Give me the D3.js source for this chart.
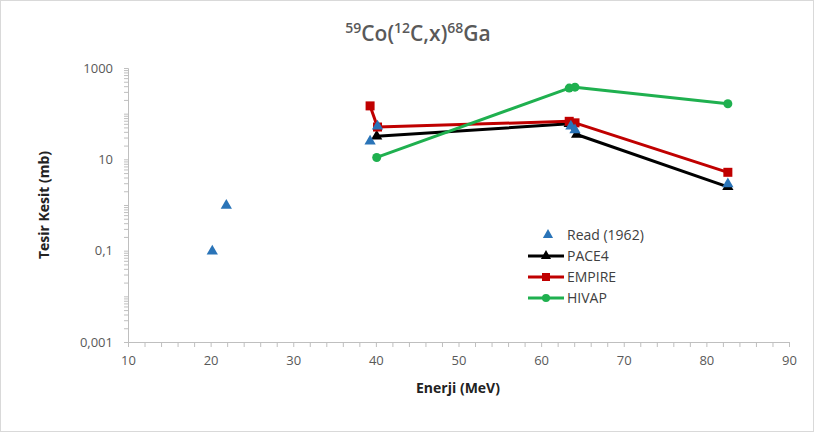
<!DOCTYPE html>
<html>
<head>
<meta charset="utf-8">
<script src="https://cdn.jsdelivr.net/npm/d3@7"></script>
<style>
  html, body { margin: 0; padding: 0; background: #fff; }
  svg { display: block; font-family: "Open Sans", "Liberation Sans", sans-serif; }
</style>
</head>
<body>
<svg id="chart" width="814" height="432"></svg>
<script>
// ---- data ----
const readX   = [20.2, 21.9, 39.3, 40.2, 63.6, 64.1, 82.6];
const readY   = [0.097, 0.97, 25, 53, 53, 44, 2.9];
const paceX   = [40.1, 63.4, 64.3, 82.6];
const paceY   = [32, 60, 35, 2.5];
const empireX = [39.3, 40.2, 63.4, 64.1, 82.6];
const empireY = [148, 51, 68, 63, 5.2];
const hivapX  = [40.1, 63.4, 64.1, 82.6];
const hivapY  = [11, 363, 380, 165];
const xTickValues = [10, 20, 30, 40, 50, 60, 70, 80, 90];
const yTickValues = [0.001, 0.1, 10, 1000];
const yTickLabels = ["0,001", "0,1", "10", "1000"];
const seriesNames = ["Read (1962)", "PACE4", "EMPIRE", "HIVAP"];
const seriesColors = ["#2a74b8", "#000000", "#c00000", "#1fb04f"];

(function () {
// ---- layout ----
const svg = d3.select("#chart");
const W = 814, H = 432;
const pL = 128, pR = 789, pT = 68, pB = 342;

svg.append("rect").attr("x", 0.5).attr("y", 0.5).attr("width", W - 1).attr("height", H - 1)
  .attr("fill", "#fff").attr("stroke", "#d9d9d9");

const x = d3.scaleLinear().domain([10, 90]).range([pL, pR]);
const y = d3.scaleLog().domain([0.001, 1000]).range([pB, pT]);

const axisColor = "#bfbfbf";
const labelColor = "#595959";

// X axis
const xMinor = d3.range(10, 90.01, 2);
const xAxis = svg.append("g").attr("transform", `translate(0,${pB})`)
  .call(d3.axisBottom(x).tickValues(xMinor).tickSize(5).tickFormat(""));
xAxis.select(".domain").attr("stroke", axisColor);
xAxis.selectAll(".tick line").attr("stroke", axisColor);
const xLab = svg.append("g").attr("transform", `translate(0,${pB})`)
  .call(d3.axisBottom(x).tickValues(xTickValues).tickSize(0).tickPadding(14).tickFormat(d3.format("d")));
xLab.select(".domain").remove();
xLab.selectAll("text").attr("fill", labelColor).style("font-size", "13px")
  .style("font-family", "'Open Sans', sans-serif");

// Y axis
const yMinor = [];
for (let e = -3; e < 3; e++) for (let m = 1; m < 10; m++) yMinor.push(m * Math.pow(10, e));
yMinor.push(1000);
const yAxis = svg.append("g").attr("transform", `translate(${pL},0)`)
  .call(d3.axisLeft(y).tickValues(yMinor).tickSize(4).tickFormat(""));
yAxis.select(".domain").attr("stroke", axisColor);
yAxis.selectAll(".tick line").attr("stroke", axisColor);
const yLab = svg.append("g").attr("transform", `translate(${pL},0)`)
  .call(d3.axisLeft(y).tickValues(yTickValues).tickSize(0).tickPadding(15)
    .tickFormat((d, i) => yTickLabels[i]));
yLab.select(".domain").remove();
yLab.selectAll("text").attr("fill", labelColor).style("font-size", "13px")
  .style("font-family", "'Open Sans', sans-serif");

// Title
const title = svg.append("text").attr("x", 418).attr("y", 41).attr("text-anchor", "middle")
  .attr("fill", labelColor).style("font-size", "21px").style("font-weight", "600");
title.append("tspan").attr("dy", -8).style("font-size", "14px").text("59");
title.append("tspan").attr("dy", 8).text("Co(");
title.append("tspan").attr("dy", -8).style("font-size", "14px").text("12");
title.append("tspan").attr("dy", 8).text("C,x)");
title.append("tspan").attr("dy", -8).style("font-size", "14px").text("68");
title.append("tspan").attr("dy", 8).text("Ga");

// Axis titles
svg.append("text").attr("x", 458).attr("y", 393).attr("text-anchor", "middle")
  .attr("fill", "#222").style("font-size", "14px").style("font-weight", "bold").text("Enerji (MeV)");
svg.append("text").attr("transform", `translate(49,205) rotate(-90)`).attr("text-anchor", "middle")
  .attr("fill", "#222").style("font-size", "14px").style("font-weight", "bold").text("Tesir Kesit (mb)");

// ---- series ----
const line = d3.line().x(d => x(d[0])).y(d => y(d[1]));
const zip = (a, b) => a.map((v, i) => [v, b[i]]);
const tri = d3.symbol().type(d3.symbolTriangle).size(55);
const triLeg = d3.symbol().type(d3.symbolTriangle).size(45);

function drawLine(data, color) {
  svg.append("path").datum(data).attr("d", line).attr("fill", "none")
    .attr("stroke", color).attr("stroke-width", 3).attr("stroke-linejoin", "round");
}
const paceData = zip(paceX, paceY), empData = zip(empireX, empireY), hivData = zip(hivapX, hivapY);
drawLine(paceData, seriesColors[1]);
svg.selectAll(".pm").data(paceData).join("path").attr("class", "pm")
  .attr("d", tri).attr("transform", d => `translate(${x(d[0])},${y(d[1])})`).attr("fill", seriesColors[1]);
drawLine(empData, seriesColors[2]);
svg.selectAll(".em").data(empData).join("rect").attr("class", "em")
  .attr("x", d => x(d[0]) - 4.5).attr("y", d => y(d[1]) - 4.5).attr("width", 9).attr("height", 9)
  .attr("fill", seriesColors[2]);
drawLine(hivData, seriesColors[3]);
svg.selectAll(".hm").data(hivData).join("circle").attr("class", "hm")
  .attr("cx", d => x(d[0])).attr("cy", d => y(d[1])).attr("r", 4.5).attr("fill", seriesColors[3]);
svg.selectAll(".rm").data(zip(readX, readY)).join("path").attr("class", "rm")
  .attr("d", tri).attr("transform", d => `translate(${x(d[0])},${y(d[1])})`).attr("fill", seriesColors[0]);

// ---- legend ----
const legY = [235, 256, 277, 298];
const lg = svg.append("g");
seriesNames.forEach((name, i) => {
  const yy = legY[i];
  if (i === 0) {
    lg.append("path").attr("d", triLeg).attr("transform", `translate(548,${yy})`).attr("fill", seriesColors[0]);
  } else {
    lg.append("line").attr("x1", 528).attr("x2", 564).attr("y1", yy).attr("y2", yy)
      .attr("stroke", seriesColors[i]).attr("stroke-width", 3);
    if (i === 1) lg.append("path").attr("d", triLeg).attr("transform", `translate(546,${yy})`).attr("fill", seriesColors[1]);
    if (i === 2) lg.append("rect").attr("x", 542).attr("y", yy - 4).attr("width", 8).attr("height", 8).attr("fill", seriesColors[2]);
    if (i === 3) lg.append("circle").attr("cx", 546).attr("cy", yy).attr("r", 4).attr("fill", seriesColors[3]);
  }
  lg.append("text").attr("x", 567).attr("y", yy).attr("dy", "0.35em")
    .attr("fill", "#404040").style("font-size", "14px").text(name);
});
})();
</script>
</body>
</html>
